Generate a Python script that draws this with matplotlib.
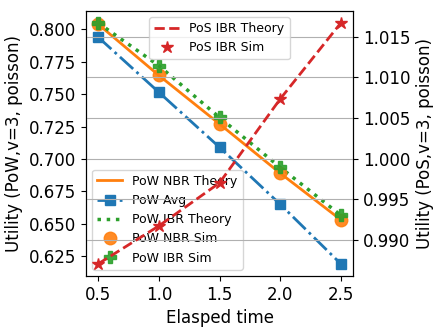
import matplotlib
matplotlib.use("Agg")
import matplotlib.pyplot as plt
from matplotlib.ticker import MultipleLocator, FormatStrFormatter

x = [0.5, 1.0, 1.5, 2.0, 2.5]
pow_nbr_theory = [0.804, 0.7645, 0.727, 0.689, 0.653]
pow_avg = [0.794, 0.7515, 0.709, 0.665, 0.619]
pow_ibr_theory = [0.805, 0.772, 0.732, 0.6935, 0.6565]
pow_nbr_sim = [0.804, 0.7645, 0.727, 0.689, 0.653]
pow_ibr_sim = [0.805, 0.772, 0.732, 0.6935, 0.6565]
pos_ibr_theory = [0.98703, 0.9917, 0.9970, 1.00733, 1.0167]
pos_ibr_sim = [0.98703, 0.9917, 0.9970, 1.00733, 1.0167]

plt.rcParams['font.size'] = 12
fig, ax = plt.subplots(figsize=(4.39, 3.30), dpi=100)
fig.subplots_adjust(left=0.196, right=0.804, top=0.967, bottom=0.164)

ax.plot(x, pow_nbr_theory, '-', color='tab:orange', lw=2, label='PoW NBR Theory')
ax.plot(x, pow_avg, '-.', color='tab:blue', lw=2, marker='s', ms=7, label='PoW Avg')
ax.plot(x, pow_ibr_theory, ':', color='tab:green', lw=2.5, label='PoW IBR Theory')
ax.plot(x, pow_nbr_sim, 'o', color='tab:orange', ms=9, alpha=0.9, label='PoW NBR Sim')
ax.plot(x, pow_ibr_sim, 'P', color='tab:green', ms=9, alpha=0.9, label='PoW IBR Sim')
ax.set_xlabel('Elasped time')
ax.set_ylabel('Utility (PoW,v=3, poisson)')
ax.set_xticks([0.5, 1.0, 1.5, 2.0, 2.5])
ax.yaxis.set_major_locator(MultipleLocator(0.025))
ax.yaxis.set_major_formatter(FormatStrFormatter('%.3f'))
ax.legend(loc='lower left', fontsize=9)

ax2 = ax.twinx()
ax2.plot(x, pos_ibr_theory, '--', color='tab:red', lw=2, label='PoS IBR Theory')
ax2.plot(x, pos_ibr_sim, '*', color='tab:red', ms=9, label='PoS IBR Sim')
ax2.set_ylabel('Utility (PoS,v=3, poisson)')
ax2.yaxis.set_major_locator(MultipleLocator(0.005))
ax2.yaxis.set_major_formatter(FormatStrFormatter('%.3f'))
ax2.grid(True, axis='y')
ax2.legend(loc='upper center', fontsize=9)

fig.savefig('out.png', dpi=100)
